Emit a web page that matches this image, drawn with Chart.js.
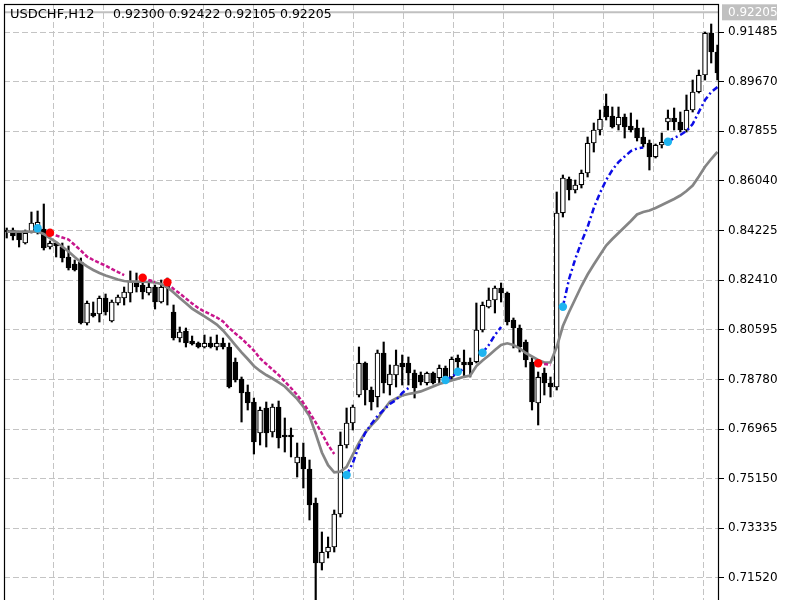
<!DOCTYPE html>
<html>
<head>
<meta charset="utf-8">
<style>
html, body { margin: 0; padding: 0; background: #fff; }
canvas { display: block; }
</style>
<script src="https://cdn.jsdelivr.net/npm/chart.js@4.4.1/dist/chart.umd.min.js"></script>
</head>
<body>
<canvas id="chart" width="800" height="600"></canvas>
<script>
// USDCHF H12, last visible bars plus indicator buffers
const symbol = 'USDCHF,H12';
const lastQuote = ['0.92300', '0.92422', '0.92105', '0.92205'];
const bidPrice = 0.92205;
const priceTicks = [0.91485, 0.89670, 0.87855, 0.86040, 0.84225, 0.82410, 0.80595, 0.78780, 0.76965, 0.75150, 0.73335, 0.71520];

const openP = [
  .84244, .84244, .84134, .83768, .84171, .84171, .84280, .83622, .83768, .83622,
  .83257, .83001, .83074, .80843, .81209, .81172, .81757, .80916, .81574, .81757,
  .81940, .82342, .82233, .81940, .82159, .81611, .82306, .81245, .80294, .80550,
  .80185, .80111, .79965, .80111, .79965, .80111, .79965, .79417, .78795, .78320,
  .77954, .76820, .77734, .76857, .77771, .76747, .76747, .75723, .75943, .75504,
  .74260, .72066, .72468, .72651, .73858, .76381, .77186, .78210, .79380, .78393,
  .78137, .79746, .78576, .78941, .79380, .79380, .79014, .78941, .78649, .79014,
  .78832, .79197, .78868, .79563, .79417, .79417, .79417, .80587, .81428, .81684,
  .82123, .81940, .80953, .80660, .80148, .79417, .77917, .79014, .78649, .78502,
  .84866, .86109, .85707, .85890, .86328, .87425, .87901, .88779, .88413, .88084,
  .88376, .88047, .87974, .87645, .87425, .86914, .87352, .88193, .88340, .88193,
  .87901, .88632, .89291, .89912, .91448, .90753
];
const highP = [
  .84317, .84317, .84171, .84244, .84902, .84939, .85195, .83842, .83805, .83768,
  .83659, .83147, .83220, .81647, .81611, .81830, .81903, .81684, .81867, .82159,
  .82745, .82671, .82489, .82342, .82233, .82416, .82489, .81501, .80697, .80660,
  .80367, .80148, .80404, .80331, .80404, .80294, .80111, .79563, .78868, .78576,
  .78100, .77771, .77954, .77881, .77990, .77369, .77003, .76454, .76454, .75833,
  .74443, .73200, .73017, .74004, .76857, .77734, .77844, .79965, .79417, .78502,
  .79855, .80148, .79307, .79855, .79673, .79600, .79124, .79051, .79051, .79051,
  .79307, .79270, .79600, .79673, .79855, .79563, .81574, .81611, .82123, .82196,
  .82306, .81977, .81026, .80770, .80221, .79563, .79051, .79197, .78868, .85634,
  .86255, .86182, .86072, .86438, .87645, .88157, .88632, .89217, .88742, .88742,
  .88486, .88523, .88267, .87974, .87535, .87389, .87791, .88632, .88705, .88559,
  .89181, .89729, .90095, .91485, .91777, .91009
];
const lowP = [
  .83951, .83878, .83622, .83732, .84134, .84098, .83512, .83549, .83257, .83074,
  .82781, .82745, .80806, .80770, .81062, .80879, .81135, .80879, .81501, .81501,
  .81611, .81977, .81721, .81867, .81355, .81574, .81501, .80221, .80148, .79965,
  .80038, .79929, .79929, .79929, .79855, .79892, .78466, .78685, .77222, .77661,
  .76052, .76381, .76308, .76674, .76272, .76125, .75943, .75211, .74809, .73639,
  .70530, .71810, .72249, .72468, .73748, .76272, .76930, .78137, .77844, .77661,
  .77771, .78283, .78210, .78502, .78576, .78576, .78100, .78576, .78576, .78612,
  .78649, .78685, .78758, .79051, .78868, .78868, .79380, .80514, .81391, .81209,
  .81611, .80770, .79929, .79782, .79234, .77661, .77113, .78210, .78137, .78393,
  .84719, .85341, .85597, .85780, .86182, .87096, .87718, .88267, .87974, .87901,
  .87608, .87828, .87499, .87279, .86438, .86877, .87243, .87901, .87901, .87828,
  .87828, .88559, .89254, .89729, .90351, .89729
];
const closeP = [
  .84171, .84024, .83878, .84134, .84500, .84536, .83586, .83768, .83659, .83220,
  .82854, .82781, .80843, .81574, .81099, .81757, .81245, .81611, .81794, .81977,
  .82379, .82159, .81977, .82159, .81611, .82159, .82123, .80294, .80514, .80111,
  .80075, .79965, .80111, .79965, .80111, .79965, .78502, .78758, .78283, .77917,
  .76491, .77661, .76820, .77771, .76637, .76674, .76674, .75943, .75504, .74187,
  .72066, .72468, .72651, .73858, .76381, .77186, .77771, .79380, .78393, .77954,
  .79746, .78649, .78978, .79307, .79234, .79014, .78466, .78685, .79014, .78649,
  .79197, .78832, .79526, .79417, .79307, .79307, .80587, .81501, .81684, .82123,
  .81940, .80879, .80660, .79965, .79490, .77954, .78868, .78649, .78502, .84866,
  .86146, .85707, .85890, .86328, .87425, .87901, .88303, .88376, .88011, .88376,
  .88011, .87901, .87608, .87389, .86914, .87352, .87462, .88340, .88193, .87901,
  .88632, .89291, .89912, .91448, .90753, .89985
];

// grey moving average
const maLine = [
  .84182, .84182, .84182, .84182, .84182, .84182, .84098, .83951, .83805, .83633,
  .83458, .83257, .83066, .82913, .82781, .82672, .82580, .82507, .82434, .82379,
  .82353, .82353, .82353, .82342, .82324, .82269, .82148, .81955, .81757, .81563,
  .81369, .81227, .81084, .80938, .80788, .80569, .80305, .80038, .79771, .79526,
  .79270, .79088, .78941, .78813, .78674, .78521, .78294, .78067, .77782, .77442,
  .76795, .76107, .75643, .75383, .75409, .75581, .76034, .76454, .76835, .77098,
  .77332, .77661, .77965, .78082, .78192, .78246, .78290, .78342, .78433, .78524,
  .78612, .78674, .78740, .78810, .78875, .78923, .79270, .79472, .79654, .79855,
  .80038, .80101, .80038, .79918, .79746, .79618, .79490, .79398, .79398, .79965,
  .80733, .81245, .81721, .82196, .82617, .82982, .83330, .83677, .83915, .84134,
  .84354, .84573, .84811, .84902, .84957, .85048, .85158, .85268, .85378, .85506,
  .85670, .85871, .86200, .86559, .86840, .87096
];

// trailing stop, down trend (magenta)
const downStop = [
  null, null, null, null, null, null, null, .84116, .84043, .83970,
  .83897, .83695, .83494, .83267, .83147, .83037, .82946, .82818, .82708, .82598,
  null, null, .82499, .82415, .82342, null, .82306, .82086, .81922, .81739,
  .81556, .81391, .81264, .81154, .81044, .80898, .80660, .80459, .80276, .80057,
  .79837, .79545, .79344, .79142, .78941, .78703, .78466, .78210, .77917, .77570,
  .77204, .76802, .76381, .76052, null, null, null, null, null, null,
  null, null, null, null, null, null, null, null, null, null,
  null, null, null, null, null, null, null, null, null, null,
  null, null, null, null, null, null, .79380, .79344, .79307, null,
  null, null, null, null, null, null, null, null, null, null,
  null, null, null, null, null, null, null, null, null, null,
  null, null, null, null, null, null
];

// trailing stop, up trend (blue)
const upStop = [
  null, null, null, null, null, null, null, null, null, null,
  null, null, null, null, null, null, null, null, null, null,
  null, null, null, null, null, null, null, null, null, null,
  null, null, null, null, null, null, null, null, null, null,
  null, null, null, null, null, null, null, null, null, null,
  null, null, null, null, null, .75284, .75723, .76345, .76820, .77149,
  .77442, .77661, .77881, .78027, .78283, .78466, null, null, null, null,
  null, .78758, .78868, .79051, .79161, null, null, .79757, .80038, .80404,
  .80697, null, null, null, null, null, null, null, null, null,
  .81439, .82452, .83183, .83805, .84354, .85048, .85597, .86072, .86438, .86731,
  .86932, .87133, .87224, .87261, null, null, null, .87473, .87608, .87718,
  .87864, .88120, .88559, .88998, .89291, .89473
];

// signal dots
const buyIdx = [5, 55, 71, 73, 77, 90, 107];
const buyVal = [.84306, .75284, .78758, .79062, .79757, .81439, .87473];
const sellIdx = [7, 22, 26, 86];
const sellVal = [.84145, .82499, .82331, .79369];

const xMin = -0.44, xMax = 115.1;
const gridStart = 7.54, gridStep = 8.09;
const FONT = 'DejaVu Sans';

const idx = openP.map((_, i) => i);
const pts = arr => arr.map((v, i) => ({ x: i, y: v }));

const mtDecor = {
  id: 'mtDecor',
  beforeDatasetsDraw(chart) {
    const { ctx, chartArea: a, scales: { y } } = chart;
    const py = y.getPixelForValue(bidPrice);
    ctx.save();
    ctx.strokeStyle = '#c0c0c0';
    ctx.lineWidth = 2;
    ctx.beginPath();
    ctx.moveTo(a.left, py);
    ctx.lineTo(a.right, py);
    ctx.stroke();
    ctx.restore();
  },
  afterDraw(chart) {
    const { ctx, chartArea: a, scales: { y } } = chart;
    ctx.save();
    ctx.strokeStyle = '#000';
    ctx.lineWidth = 1.2;
    ctx.strokeRect(a.left + 0.5, a.top + 0.5, a.right - a.left, a.bottom - a.top + 2);

    const py = y.getPixelForValue(bidPrice);
    ctx.fillStyle = '#c0c0c0';
    ctx.fillRect(a.right + 4, py - 8, 55, 16);
    ctx.fillStyle = '#fff';
    ctx.font = '12px "' + FONT + '"';
    ctx.textBaseline = 'middle';
    ctx.textAlign = 'left';
    ctx.fillText(bidPrice.toFixed(5), a.right + 10, py + 0.5);

    ctx.fillStyle = '#000';
    ctx.font = '13px "' + FONT + '"';
    ctx.fillText(symbol, a.left + 6, 15);
    ctx.font = '12.5px "' + FONT + '"';
    ctx.fillText(lastQuote.join(' '), a.left + 109, 15);
    ctx.restore();
  }
};

new Chart(document.getElementById('chart'), {
  type: 'bar',
  data: {
    datasets: [
      {
        type: 'line', data: buyIdx.map((x, k) => ({ x, y: buyVal[k] })),
        showLine: false, pointRadius: 4.2, pointBorderWidth: 0,
        pointBackgroundColor: '#1eb4f0', order: 0, clip: 0
      },
      {
        type: 'line', data: sellIdx.map((x, k) => ({ x, y: sellVal[k] })),
        showLine: false, pointRadius: 4.2, pointBorderWidth: 0,
        pointBackgroundColor: '#ff0000', order: 0, clip: 0
      },
      {
        type: 'line', data: pts(upStop), borderColor: '#0c0ce6', borderWidth: 2.5,
        borderDash: [6, 3, 2, 3], pointRadius: 0, tension: 0, spanGaps: false, order: 1, clip: 0
      },
      {
        type: 'line', data: pts(downStop), borderColor: '#c8168c', borderWidth: 2.5,
        borderDash: [4, 2], pointRadius: 0, tension: 0, spanGaps: false, order: 1, clip: 0
      },
      {
        type: 'line', data: pts(maLine), borderColor: '#858585', borderWidth: 2.7,
        pointRadius: 0, tension: 0, order: 2, clip: 0
      },
      {
        data: idx.map(i => ({ x: i, y: [Math.min(openP[i], closeP[i]), Math.max(openP[i], closeP[i])] })),
        backgroundColor: idx.map(i => closeP[i] >= openP[i] ? '#fff' : '#000'),
        borderColor: '#000', borderWidth: 1.2, borderSkipped: false,
        barThickness: 5, grouped: false, order: 3, clip: 0
      },
      {
        data: idx.map(i => ({ x: i, y: [lowP[i], highP[i]] })),
        backgroundColor: '#000', borderWidth: 0,
        barThickness: 1.5, grouped: false, order: 4, clip: 0
      }
    ]
  },
  options: {
    responsive: false,
    animation: false,
    events: [],
    layout: { autoPadding: false, padding: { left: 4, top: 4, right: 0, bottom: 0 } },
    plugins: { legend: { display: false }, tooltip: { enabled: false } },
    scales: {
      x: {
        type: 'linear', min: xMin, max: xMax, offset: false,
        grid: { color: '#c4c4c4', lineWidth: 1, drawTicks: false, offset: false },
        border: { display: false, dash: [6, 3] },
        ticks: { display: false },
        afterBuildTicks: s => {
          s.ticks = [];
          for (let v = gridStart; v < xMax; v += gridStep) s.ticks.push({ value: v });
        },
        afterFit: s => { s.height = 0; s.paddingLeft = 0; s.paddingRight = 0; }
      },
      y: {
        position: 'right', min: 0.70713, max: 0.92509, beginAtZero: false,
        grid: { color: '#c4c4c4', lineWidth: 1, tickColor: '#000', tickLength: 6, tickWidth: 1 },
        border: { display: false, dash: [6, 3] },
        ticks: {
          color: '#000', padding: 4, font: { family: FONT, size: 12 },
          callback: v => v.toFixed(5)
        },
        afterBuildTicks: s => { s.ticks = priceTicks.map(v => ({ value: v })); },
        afterFit: s => { s.width = 82; s.paddingTop = 0; s.paddingBottom = 0; }
      }
    }
  },
  plugins: [mtDecor]
});
</script>
</body>
</html>
